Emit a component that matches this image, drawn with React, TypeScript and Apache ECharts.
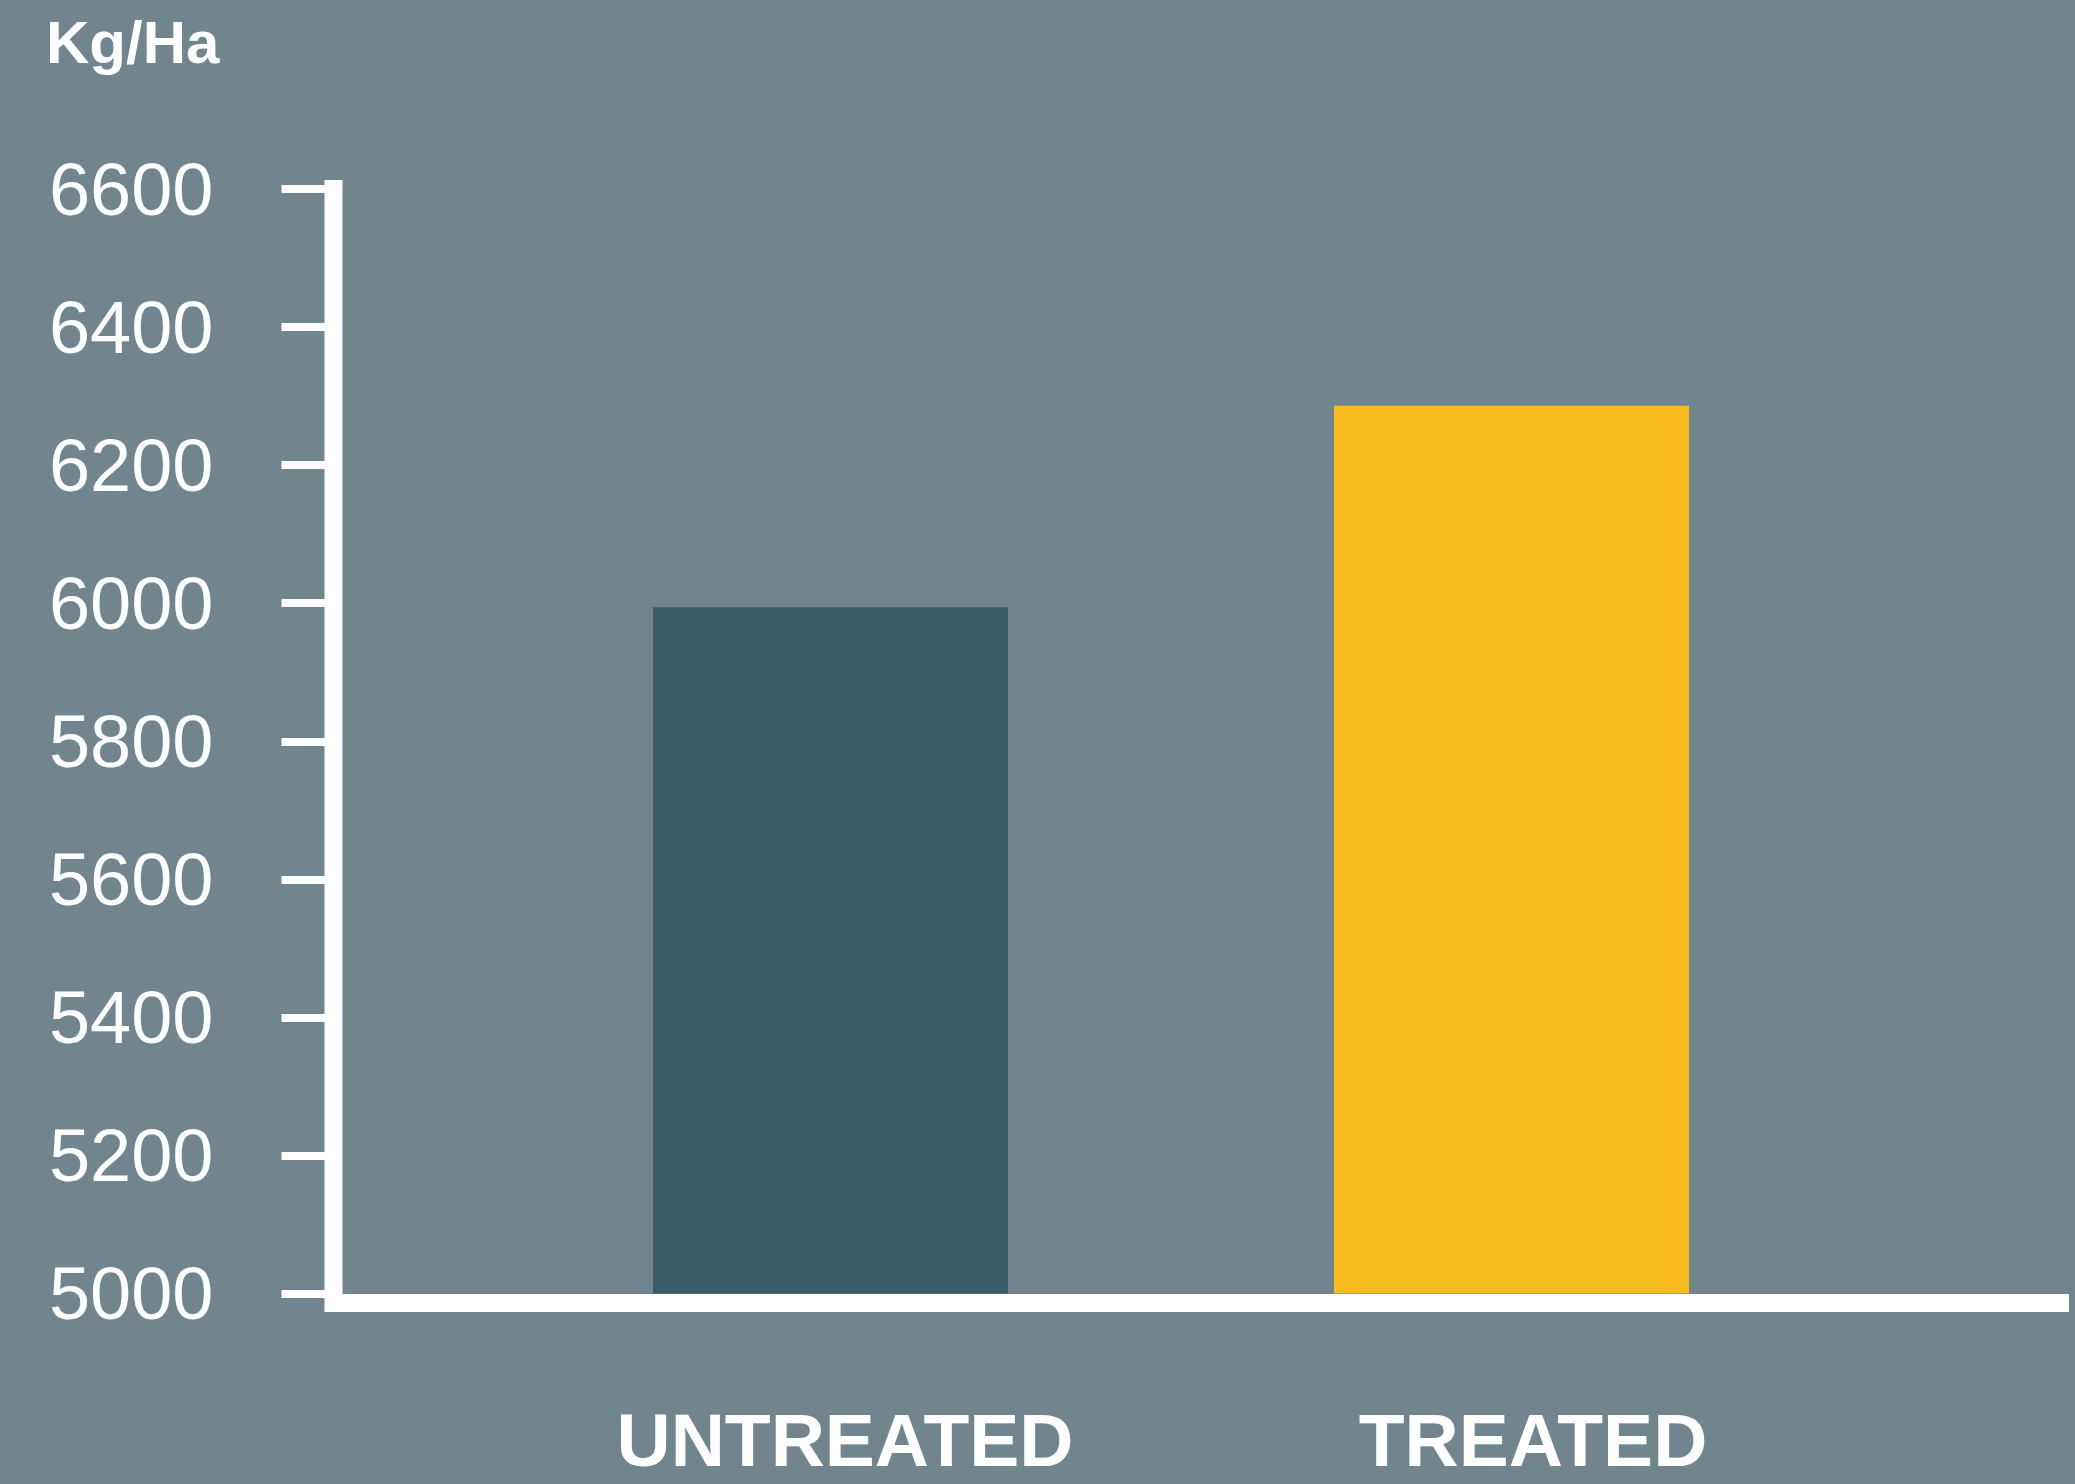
import React, { useEffect, useRef } from "react";
import * as echarts from "echarts";

// ---- data ----
const categories = ["UNTREATED", "TREATED"];
const yieldValues = [5994, 6286];
const yMin = 5000;
const yMax = 6600;
const yStep = 200;
const unitLabel = "Kg/Ha";

// ---- styles ----
const BG = "#71858f";
const barColors = ["#3d5c69", "#f9bc1e"];
const labelPads = [
  [0, 0, 0, 29],
  [0, 0, 0, 43],
];

export default function App() {
  const ref = useRef<HTMLDivElement>(null);
  useEffect(() => {
    document.body.style.margin = "0";
    document.body.style.overflow = "hidden";
    const chart = echarts.init(ref.current!, null, { renderer: "svg" });
    chart.setOption({
      animation: false,
      backgroundColor: BG,
      grid: {
        left: 490,
        width: 1362,
        top: 189,
        height: 1104.5,
        outerBoundsMode: "none",
        containLabel: false,
      },
      xAxis: {
        type: "category",
        data: categories.map((c, i) => ({
          value: c,
          textStyle: { padding: labelPads[i] },
        })),
        axisLine: { show: false },
        axisTick: { show: false },
        axisLabel: {
          interval: 0,
          margin: 126,
          lineHeight: 40,
          color: "#ffffff",
          fontFamily: "Liberation Sans",
          fontWeight: "bold",
          fontSize: 75,
        },
      },
      yAxis: {
        type: "value",
        min: yMin,
        max: yMax,
        interval: yStep,
        offset: 156.5,
        splitLine: { show: false },
        axisLine: { show: false },
        axisTick: {
          show: true,
          length: 52,
          lineStyle: { color: "#ffffff", width: 8 },
        },
        axisLabel: {
          margin: 120,
          padding: [8, 0, 0, 0],
          color: "#ffffff",
          fontFamily: "Liberation Sans",
          fontSize: 74,
          formatter: (v: number) => String(v),
        },
      },
      series: [
        {
          type: "bar",
          barWidth: 355,
          data: yieldValues.map((v, i) => ({
            value: v,
            itemStyle: { color: barColors[i] },
          })),
        },
      ],
      graphic: [
        {
          type: "line",
          shape: { x1: 333.5, y1: 180, x2: 333.5, y2: 1312 },
          style: { stroke: "#ffffff", lineWidth: 18 },
          z: 10,
        },
        {
          type: "line",
          shape: { x1: 325, y1: 1303, x2: 2069, y2: 1303 },
          style: { stroke: "#ffffff", lineWidth: 18 },
          z: 10,
        },
        {
          type: "text",
          x: 46,
          y: 42,
          style: {
            text: unitLabel,
            fill: "#ffffff",
            fontFamily: "Liberation Sans",
            fontWeight: "bold",
            fontSize: 60,
            verticalAlign: "middle",
          },
        },
      ],
    });
    return () => chart.dispose();
  }, []);
  return <div ref={ref} style={{ width: 2075, height: 1484 }} />;
}
